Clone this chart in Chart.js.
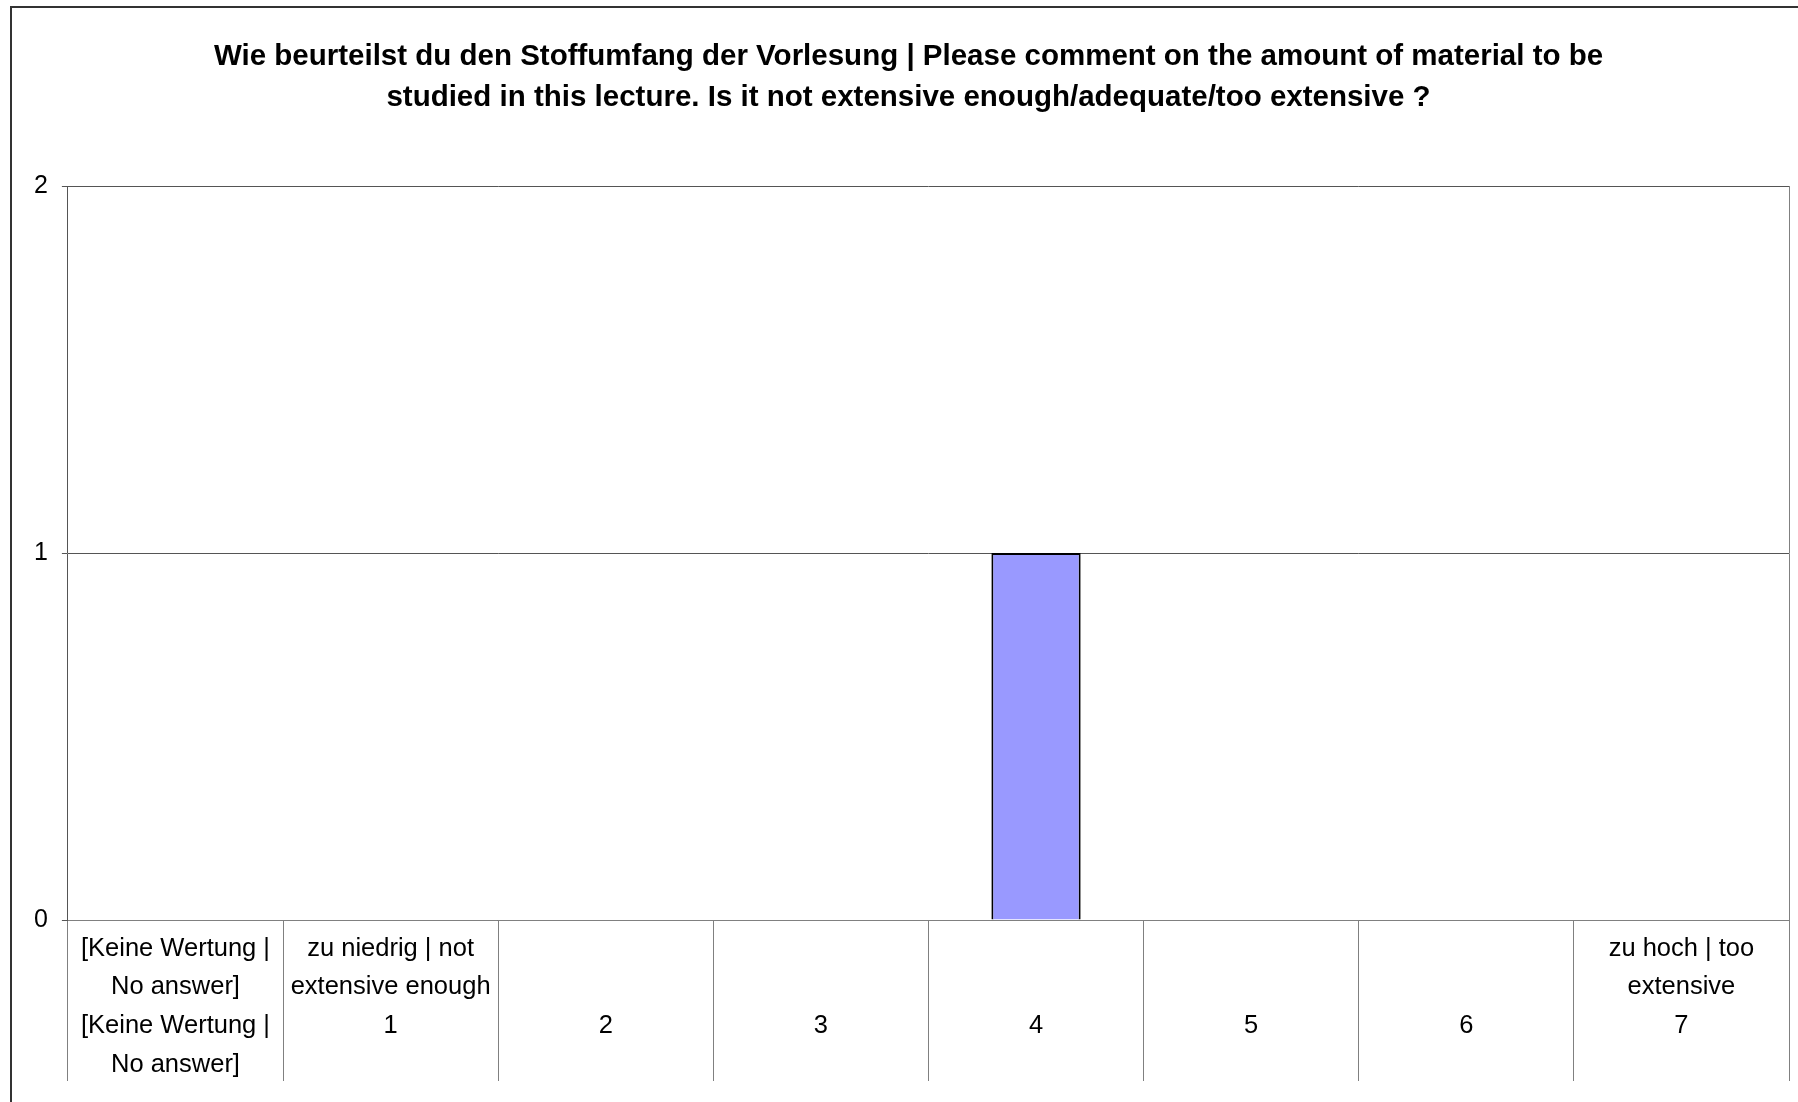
<!DOCTYPE html>
<html>
<head>
<meta charset="utf-8">
<script src="https://cdn.jsdelivr.net/npm/chart.js@4/dist/chart.umd.min.js"></script>
<style>
  body { margin: 0; background: #fff; }
  #wrap { position: relative; width: 1798px; height: 1102px; }
  #frame { position: absolute; left: 10px; top: 6px; width: 1800px; height: 1110px; border-left: 2px solid #333; border-top: 2px solid #333; pointer-events: none; }
</style>
</head>
<body>
<div id="wrap">
  <canvas id="stoffumfang"></canvas>
  <div id="frame"></div>
</div>
<script>
// Skala: obere Zeile (Beschriftung) und untere Zeile (Wert)
var labelTop = [
  ["[Keine Wertung |", "No answer]"],
  ["zu niedrig | not", "extensive enough"],
  [], [], [], [], [],
  ["zu hoch | too", "extensive"]
];
var labelBottom = [
  ["[Keine Wertung |", "No answer]"],
  ["1"], ["2"], ["3"], ["4"], ["5"], ["6"], ["7"]
];
var antworten = [0, 0, 0, 0, 1, 0, 0, 0];
var yTicks = [0, 1, 2];

var titel = [
  "Wie beurteilst du den Stoffumfang der Vorlesung | Please comment on the amount of material to be",
  "studied in this lecture. Is it not extensive enough/adequate/too extensive ?"
];

// beide Zeilen zu einem mehrzeiligen Label zusammensetzen
var labels = labelTop.map(function (top, i) {
  var oben = top.slice();
  while (oben.length < 2) oben.push("");
  return oben.concat(labelBottom[i]);
});

var schrift = "'Liberation Sans', Arial, sans-serif";
var grau = "#808080";

var ctx = document.querySelector("#stoffumfang");

var chart = new Chart(ctx, {
  type: "bar",
  data: {
    labels: labels,
    datasets: [{
      label: "Anzahl",
      data: antworten,
      backgroundColor: "#9999ff",
      borderColor: "#000000",
      borderWidth: 2,
      barPercentage: 0.415,
      categoryPercentage: 1
    }]
  },
  options: {
    responsive: true,
    maintainAspectRatio: false,
    animation: false,
    layout: {
      padding: { left: 20, right: 1, top: 0, bottom: 117 }
    },
    plugins: {
      legend: { display: false },
      tooltip: { enabled: false },
      title: {
        display: true,
        text: titel,
        color: "#000",
        font: { family: schrift, size: 29.5, weight: "bold", lineHeight: "41px" },
        padding: { top: 36, bottom: 68 }
      }
    },
    scales: {
      x: {
        offset: true,
        grid: {
          offset: true,
          drawOnChartArea: false,
          color: grau,
          tickLength: 161,
          tickColor: grau
        },
        border: { display: true, color: grau, width: 1 },
        ticks: {
          autoSkip: false,
          maxRotation: 0,
          minRotation: 0,
          mirror: true,
          padding: -48,
          color: "#000",
          font: { family: schrift, size: 25.5, lineHeight: "38.6px" }
        }
      },
      y: {
        min: 0,
        max: 2,
        afterBuildTicks: function (axis) {
          axis.ticks = yTicks.map(function (v) { return { value: v }; });
        },
        grid: {
          color: "#555",
          tickLength: 6,
          tickColor: "#555"
        },
        border: { display: true, color: "#555", width: 1 },
        ticks: {
          padding: 14,
          color: "#000",
          font: { family: schrift, size: 25 }
        }
      },
      y2: {
        position: "right",
        min: 0,
        max: 2,
        grid: { display: false, drawOnChartArea: false },
        border: { display: true, color: grau, width: 1 },
        ticks: { display: false }
      }
    }
  }
});
</script>
</body>
</html>
